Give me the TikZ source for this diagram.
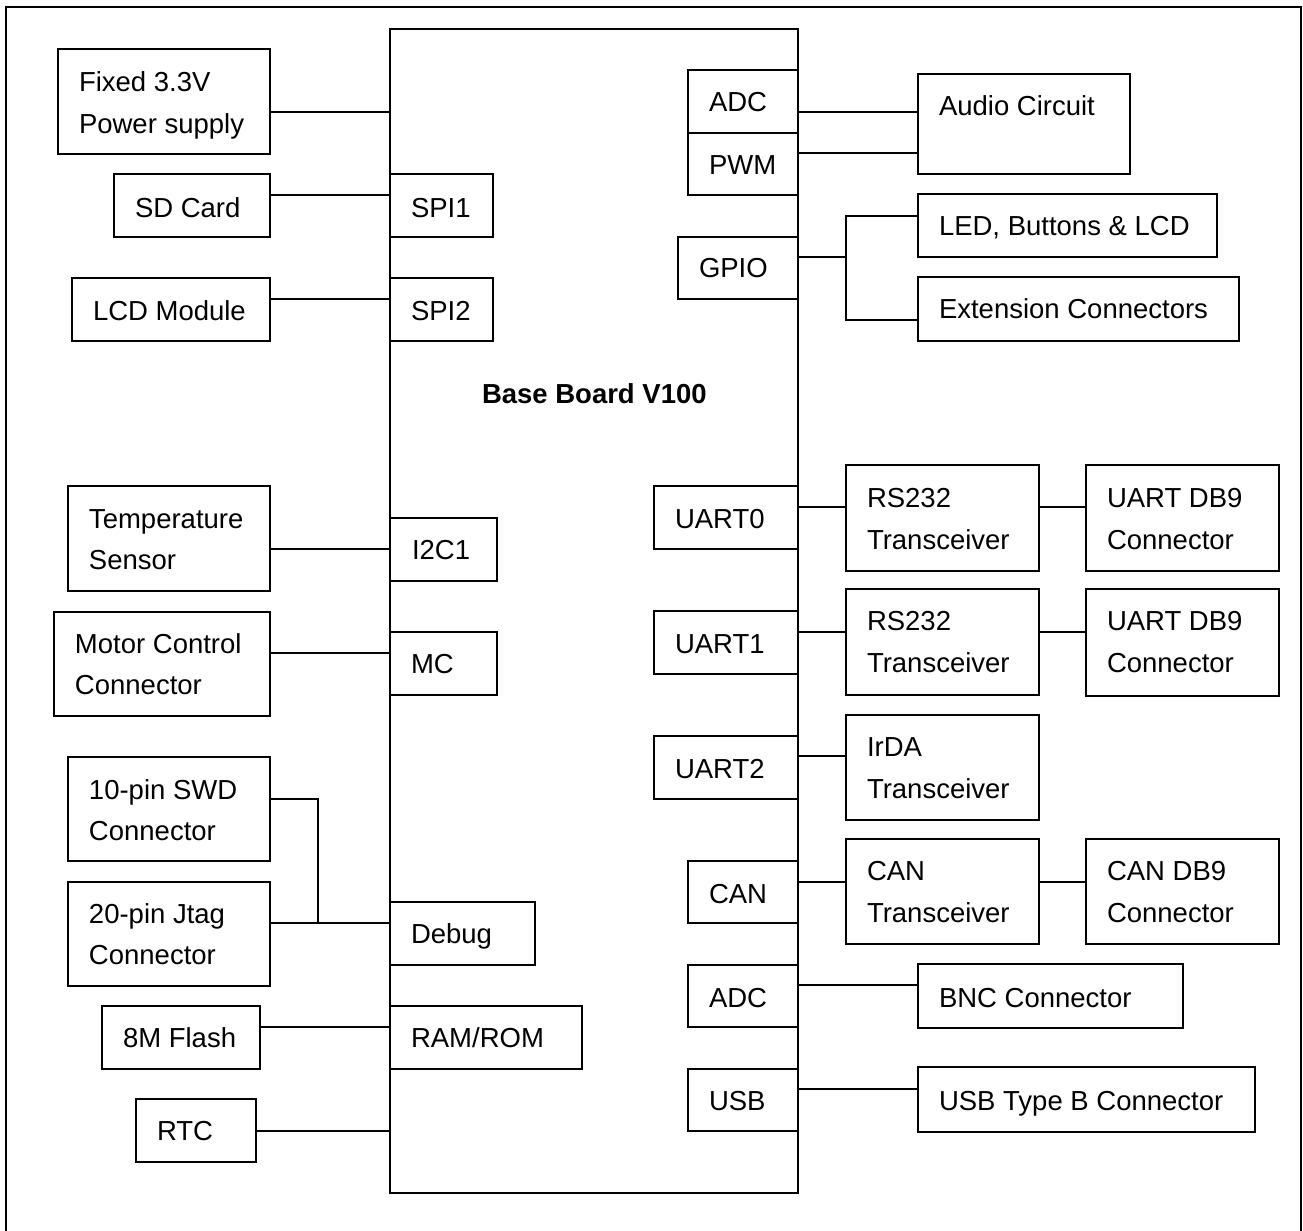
\documentclass[tikz,border=0pt]{standalone}
\usepackage{fontspec}
\setmainfont{Liberation Sans}
\begin{document}
\begin{tikzpicture}[x=0.5pt,y=-0.5pt,
  box/.style={draw, line width=0.7pt, rectangle, inner sep=0pt, outer sep=0pt},
  txt/.style={anchor=base west, inner sep=0pt, outer sep=0pt, font=\fontsize{13.75}{16}\selectfont},
  ttl/.style={anchor=base west, inner sep=0pt, outer sep=0pt, font=\fontsize{13.75}{16}\selectfont\bfseries},
  wire/.style={line width=0.7pt},
  frame/.style={line width=1pt}]
\newcommand\bx[5]{\node[box, minimum width={(#4-#2)*0.5pt}, minimum height={(#5-#3)*0.5pt}] (#1) at ({(#2+#4)/2},{(#3+#5)/2}) {};}
\newcommand\tx[4]{\node[txt] (#1) at (#2,#3) {#4};}
\path[use as bounding box] (0,0) rectangle (1303,1231);
\clip (0,0) rectangle (1303,1231);
% outer frame (open at bottom)
\draw[frame] (6,1260) |- (1301,7) -- (1301,1260);
% main board
\bx{board}{390}{29}{798}{1193}
\node[ttl] (title) at (482,403) {Base Board V100};
% ---- left side ----
\bx{pwr}{58}{49}{270}{154}
\tx{pwrA}{79}{91}{Fixed 3.3V}
\tx{pwrB}{79}{133}{Power supply}
\bx{sd}{114}{174}{270}{237}
\tx{sdT}{135}{217}{SD Card}
\bx{spi1}{390}{174}{493}{237}
\tx{spi1T}{411}{217}{SPI1}
\bx{lcd}{72}{278}{270}{341}
\tx{lcdT}{93}{320}{LCD Module}
\bx{spi2}{390}{278}{493}{341}
\tx{spi2T}{411}{320}{SPI2}
\bx{temp}{68}{486}{270}{591}
\tx{tempA}{89}{528}{Temperature}
\tx{tempB}{89}{569}{Sensor}
\bx{i2c}{390}{518}{497}{581}
\tx{i2cT}{412}{559}{I2C1}
\bx{motor}{54}{612}{270}{716}
\tx{motorA}{75}{653}{Motor Control}
\tx{motorB}{75}{694}{Connector}
\bx{mc}{390}{632}{497}{695}
\tx{mcT}{411}{673}{MC}
\bx{swd}{68}{757}{270}{861}
\tx{swdA}{89}{799}{10-pin SWD}
\tx{swdB}{89}{840}{Connector}
\bx{jtag}{68}{882}{270}{986}
\tx{jtagA}{89}{923}{20-pin Jtag}
\tx{jtagB}{89}{964}{Connector}
\bx{debug}{390}{902}{535}{965}
\tx{debugT}{411}{943}{Debug}
\bx{flash}{102}{1006}{260}{1069}
\tx{flashT}{123}{1047}{8M Flash}
\bx{ram}{390}{1006}{582}{1069}
\tx{ramT}{411}{1047}{RAM/ROM}
\bx{rtc}{136}{1099}{256}{1162}
\tx{rtcT}{157}{1140}{RTC}
% ---- right side ----
\bx{adc1}{688}{70}{798}{133}
\tx{adc1T}{709}{112}{ADC}
\bx{pwm}{688}{133}{798}{195}
\tx{pwmT}{709}{174}{PWM}
\bx{audio}{918}{74}{1130}{174}
\tx{audioT}{939}{115}{Audio Circuit}
\bx{gpio}{678}{237}{798}{299}
\tx{gpioT}{699}{277}{GPIO}
\bx{led}{918}{194}{1217}{257}
\tx{ledT}{939}{235}{LED, Buttons \& LCD}
\bx{ext}{918}{277}{1239}{341}
\tx{extT}{939}{318}{Extension Connectors}
\bx{uart0}{654}{486}{798}{549}
\tx{uart0T}{675}{528}{UART0}
\bx{rs1}{846}{465}{1039}{571}
\tx{rs1A}{867}{507}{RS232}
\tx{rs1B}{867}{549}{Transceiver}
\bx{db1}{1086}{465}{1279}{571}
\tx{db1A}{1107}{507}{UART DB9}
\tx{db1B}{1107}{549}{Connector}
\bx{uart1}{654}{611}{798}{674}
\tx{uart1T}{675}{653}{UART1}
\bx{rs2}{846}{589}{1039}{695}
\tx{rs2A}{867}{630}{RS232}
\tx{rs2B}{867}{672}{Transceiver}
\bx{db2}{1086}{589}{1279}{696}
\tx{db2A}{1107}{630}{UART DB9}
\tx{db2B}{1107}{672}{Connector}
\bx{uart2}{654}{736}{798}{799}
\tx{uart2T}{675}{778}{UART2}
\bx{irda}{846}{715}{1039}{820}
\tx{irdaA}{867}{756}{IrDA}
\tx{irdaB}{867}{798}{Transceiver}
\bx{can}{688}{861}{798}{923}
\tx{canT}{709}{903}{CAN}
\bx{cantr}{846}{839}{1039}{944}
\tx{cantrA}{867}{880}{CAN}
\tx{cantrB}{867}{922}{Transceiver}
\bx{candb}{1086}{839}{1279}{944}
\tx{candbA}{1107}{880}{CAN DB9}
\tx{candbB}{1107}{922}{Connector}
\bx{adc2}{688}{965}{798}{1027}
\tx{adc2T}{709}{1007}{ADC}
\bx{bnc}{918}{964}{1183}{1028}
\tx{bncT}{939}{1007}{BNC Connector}
\bx{usb}{688}{1069}{798}{1131}
\tx{usbT}{709}{1110}{USB}
\bx{usbb}{918}{1067}{1255}{1132}
\tx{usbbT}{939}{1110}{USB Type B Connector}
% ---- connectors left ----
\draw[wire] (pwr.east |- 0,112) -- (board.west |- 0,112);
\draw[wire] (sd.east |- 0,195) -- (spi1.west |- 0,195);
\draw[wire] (lcd.east |- 0,299) -- (spi2.west |- 0,299);
\draw[wire] (temp.east |- 0,549) -- (i2c.west |- 0,549);
\draw[wire] (motor.east |- 0,653) -- (mc.west |- 0,653);
\coordinate (dbgj) at (318,923);
\draw[wire] (swd.east |- 0,799) -| (dbgj);
\draw[wire] (jtag.east |- 0,923) -- (board.west |- 0,923);
\draw[wire] (flash.east |- 0,1027) -- (ram.west |- 0,1027);
\draw[wire] (rtc.east |- 0,1131) -- (board.west |- 0,1131);
% ---- connectors right ----
\draw[wire] (adc1.east |- 0,112) -- (audio.west |- 0,112);
\draw[wire] (pwm.east |- 0,153) -- (audio.west |- 0,153);
\coordinate (gj) at (846,257);
\draw[wire] (gpio.east |- 0,257) -- (gj);
\draw[wire] (led.west |- 0,216) -| (gj) |- (ext.west |- 0,320);
\draw[wire] (uart0.east |- 0,507) -- (rs1.west |- 0,507);
\draw[wire] (rs1.east |- 0,507) -- (db1.west |- 0,507);
\draw[wire] (uart1.east |- 0,632) -- (rs2.west |- 0,632);
\draw[wire] (rs2.east |- 0,632) -- (db2.west |- 0,632);
\draw[wire] (uart2.east |- 0,756) -- (irda.west |- 0,756);
\draw[wire] (can.east |- 0,882) -- (cantr.west |- 0,882);
\draw[wire] (cantr.east |- 0,882) -- (candb.west |- 0,882);
\draw[wire] (adc2.east |- 0,985) -- (bnc.west |- 0,985);
\draw[wire] (usb.east |- 0,1089) -- (usbb.west |- 0,1089);
\end{tikzpicture}
\end{document}
